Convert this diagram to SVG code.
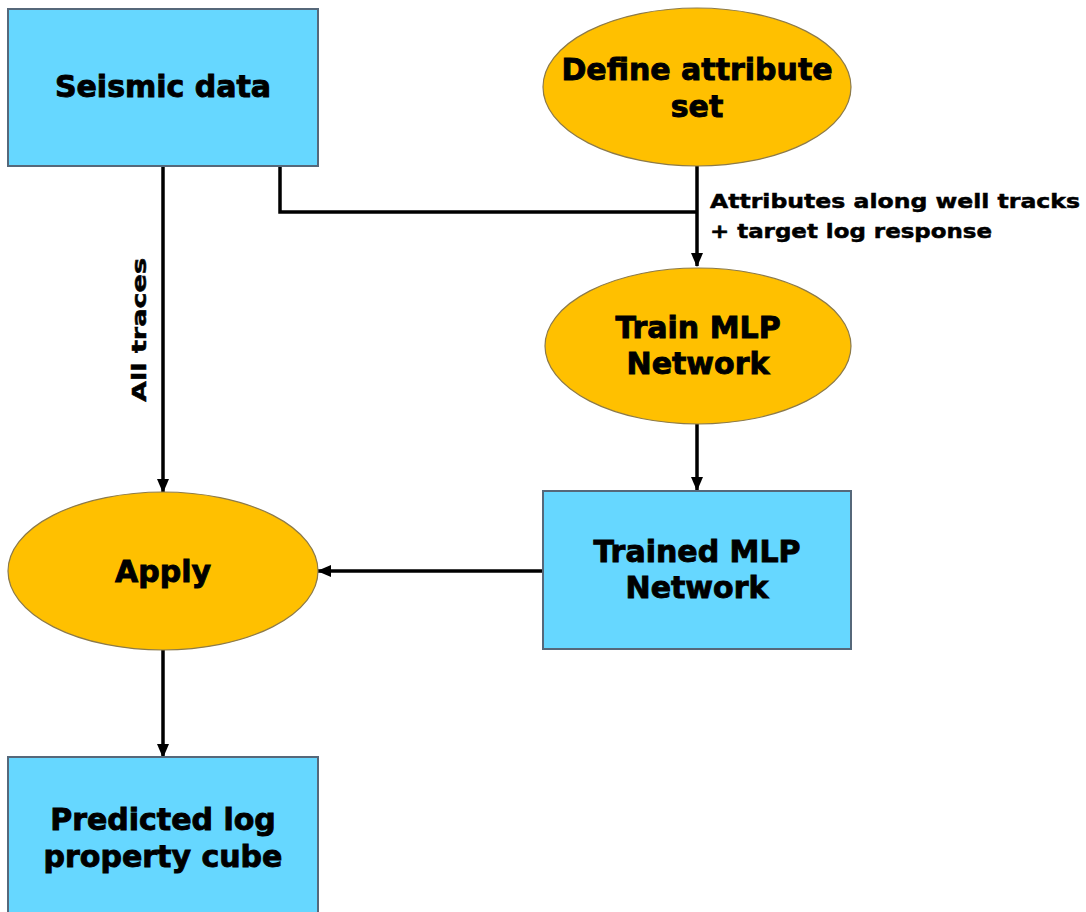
<svg xmlns="http://www.w3.org/2000/svg" width="1086" height="912" viewBox="0 0 1086 912">
<style>
.box{fill:#66D7FF;stroke:#56687a;stroke-width:2}
.ell{fill:#FFC000;stroke:#8c7a4a;stroke-width:1.2}
.t{font-family:"DejaVu Sans","Liberation Sans",sans-serif;font-weight:bold;font-size:30px;fill:#000;stroke:#000;stroke-width:0.9;text-anchor:middle}
.lbl{font-family:"DejaVu Sans","Liberation Sans",sans-serif;font-weight:bold;font-size:20px;fill:#000;stroke:#000;stroke-width:0.5}
.c{fill:none;stroke:#000;stroke-width:3.5}
</style>
<defs>
<marker id="ah" markerWidth="14" markerHeight="14" refX="13" refY="7" orient="auto" markerUnits="userSpaceOnUse" viewBox="0 0 14 14">
<path d="M0,1 L14,7 L0,13 Z" fill="#000"/>
</marker>
</defs>
<rect width="1086" height="912" fill="#fff"/>
<g id="connectors">
<path class="c" d="M697,166 V266" marker-end="url(#ah)"/>
<path class="c" d="M280,166 V212 H697"/>
<path class="c" d="M163,166 V492" marker-end="url(#ah)"/>
<path class="c" d="M697,424 V490" marker-end="url(#ah)"/>
<path class="c" d="M543,571 H318" marker-end="url(#ah)"/>
<path class="c" d="M163,650 V757" marker-end="url(#ah)"/>
<text class="lbl" x="710" y="208" textLength="370" lengthAdjust="spacingAndGlyphs">Attributes along well tracks</text>
<text class="lbl" x="710" y="238" textLength="282" lengthAdjust="spacingAndGlyphs">+ target log response</text>
<text class="lbl" text-anchor="middle" transform="translate(146,330) rotate(-90)" textLength="144" lengthAdjust="spacingAndGlyphs">All traces</text>
</g>
<g id="seismic">
<rect class="box" x="8" y="9" width="310" height="157"/>
<text class="t" x="163" y="97">Seismic data</text>
</g>
<g id="define">
<ellipse class="ell" cx="697" cy="87" rx="154" ry="79"/>
<text class="t" x="697" y="80">Define attribute</text>
<text class="t" x="697" y="117">set</text>
</g>
<g id="train">
<ellipse class="ell" cx="698" cy="346" rx="153" ry="78"/>
<text class="t" x="698" y="338">Train MLP</text>
<text class="t" x="698" y="374">Network</text>
</g>
<g id="trained">
<rect class="box" x="543" y="491" width="308" height="158"/>
<text class="t" x="697" y="562">Trained MLP</text>
<text class="t" x="697" y="598">Network</text>
</g>
<g id="apply">
<ellipse class="ell" cx="163" cy="571" rx="155" ry="79"/>
<text class="t" x="163" y="582">Apply</text>
</g>
<g id="predicted">
<rect class="box" x="8" y="757" width="310" height="170"/>
<text class="t" x="163" y="830">Predicted log</text>
<text class="t" x="163" y="867">property cube</text>
</g>
</svg>
